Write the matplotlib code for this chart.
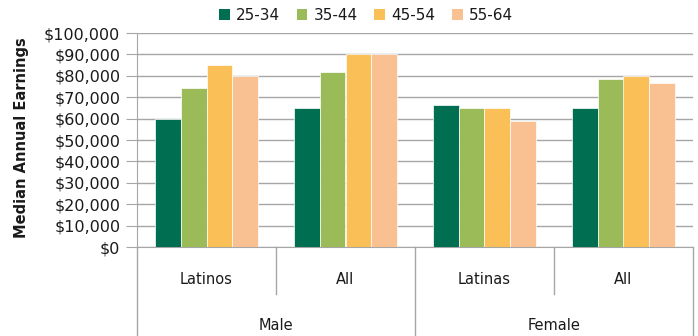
import matplotlib
matplotlib.use("Agg")
import matplotlib.pyplot as plt
import numpy as np
from matplotlib.ticker import FuncFormatter
from matplotlib.patches import Patch
from matplotlib.lines import Line2D

# Median annual earnings by age group
categories = ["Latinos", "All", "Latinas", "All"]
groups = ["Male", "Female"]
age_groups = ["25-34", "35-44", "45-54", "55-64"]
earn_25_34 = [60000, 65000, 66500, 65000]
earn_35_44 = [74500, 82000, 65000, 78500]
earn_45_54 = [85000, 90000, 65000, 80000]
earn_55_64 = [80000, 90000, 59000, 76500]
y_ticks = list(range(0, 100001, 10000))

series = [earn_25_34, earn_35_44, earn_45_54, earn_55_64]
colors = ["#006F51", "#9BBB59", "#FBBF57", "#F9C191"]
grid_col = "#A6A6A6"
text_col = "#1A1A1A"
font = "DejaVu Sans"

W, H = 698, 336
fig = plt.figure(figsize=(W / 100, H / 100), dpi=100)
left, right, top, bottom = 137, 693, 33, 247
ax = fig.add_axes([left / W, 1 - bottom / H, (right - left) / W, (bottom - top) / H])

x = np.arange(len(categories))
bw = 0.184
for i, (vals, c) in enumerate(zip(series, colors)):
    ax.bar(x + (i - 1.5) * bw, vals, width=bw, color=c, edgecolor="white",
           linewidth=0.5, zorder=3, label=age_groups[i])

ax.set_xlim(-0.5, len(categories) - 0.5)
ax.set_ylim(0, 100000)
ax.set_yticks(y_ticks)
ax.yaxis.set_major_formatter(FuncFormatter(lambda v, p: f"${v:,.0f}"))
ax.yaxis.grid(True, color=grid_col, linewidth=1.0, zorder=0)
ax.set_xticks([])
for s in ["top", "right"]:
    ax.spines[s].set_visible(False)
ax.spines["left"].set_color(grid_col)
ax.spines["bottom"].set_color(grid_col)
ax.tick_params(axis="y", length=8, color=grid_col, labelsize=11.5,
               labelcolor=text_col, pad=4)
for lab in ax.get_yticklabels():
    lab.set_fontfamily(font)

# Two-level category axis below the plot
trans = ax.get_xaxis_transform()
ax_h = bottom - top
full = -(H - bottom) / ax_h
short = -(294 - bottom) / ax_h
for b in range(len(categories) + 1):
    xb = b - 0.5
    y1 = full if b % 2 == 0 else short
    ax.add_line(Line2D([xb, xb], [0, y1], transform=trans, color=grid_col,
                       linewidth=1.0, clip_on=False))
for xi, name in zip(x, categories):
    ax.text(xi, -(279 - bottom) / ax_h, name, transform=trans, ha="center",
            va="center", fontsize=10.5, color=text_col, family=font)
for gi, g in enumerate(groups):
    ax.text(2 * gi + 0.5, -(326 - bottom) / ax_h, g, transform=trans,
            ha="center", va="center", fontsize=10.5, color=text_col, family=font)

fig.text(22 / W, 1 - 138 / H, "Median Annual Earnings", rotation=90,
         ha="center", va="center", fontsize=10.5, fontweight="bold",
         color=text_col, family=font)

handles = [Patch(facecolor=c, edgecolor="none") for c in colors]
leg = fig.legend(handles, age_groups, loc="center", ncol=4,
                 bbox_to_anchor=(366 / W, 1 - 15 / H), frameon=False,
                 prop={"family": font, "size": 11}, handlelength=0.7,
                 handleheight=0.7, handletextpad=0.4, columnspacing=1.1)
for t in leg.get_texts():
    t.set_color(text_col)

fig.savefig("out.png", dpi=100)
